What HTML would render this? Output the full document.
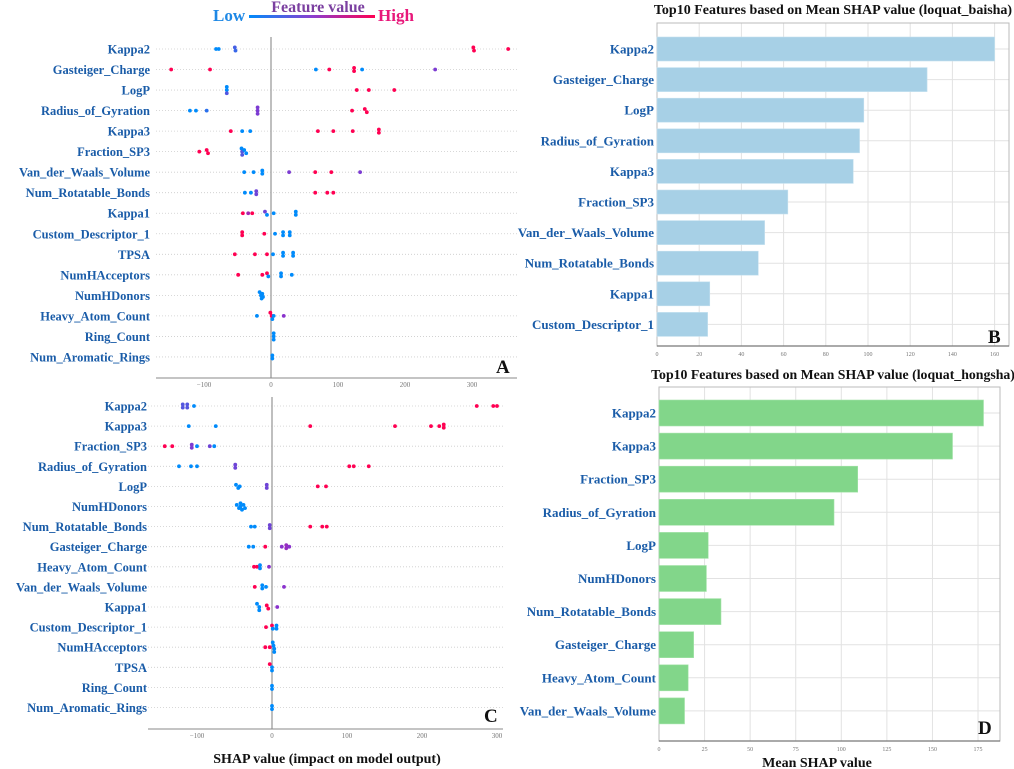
<!DOCTYPE html>
<html><head><meta charset="utf-8"><style>
html,body{margin:0;padding:0;background:#fff;}
svg{display:block;font-family:"Liberation Serif",serif;}
</style></head><body>
<svg id="fig" width="1014" height="769" viewBox="0 0 1014 769" xmlns="http://www.w3.org/2000/svg">
<defs><linearGradient id="fvgrad" x1="0" x2="1" y1="0" y2="0"><stop offset="0" stop-color="#008bfb"/><stop offset="0.5" stop-color="#8a3fd0"/><stop offset="1" stop-color="#ff0052"/></linearGradient></defs>
<g>
<text x="213" y="21" font-size="17" font-weight="bold" fill="#1e88e5">Low</text>
<rect x="249" y="15" width="126" height="3" fill="url(#fvgrad)"/>
<text x="318" y="12" font-size="16" font-weight="bold" fill="#7b3fa0" text-anchor="middle">Feature value</text>
<text x="378" y="21" font-size="17" font-weight="bold" fill="#e8177a">High</text>
</g>
<g id="gA"></g>
<g id="gC"></g>
<g id="gB"></g>
<g id="gD"></g>
</svg>
<script>
// ---- Panel A data ----
const featuresA = ["Kappa2","Gasteiger_Charge","LogP","Radius_of_Gyration","Kappa3","Fraction_SP3","Van_der_Waals_Volume","Num_Rotatable_Bonds","Kappa1","Custom_Descriptor_1","TPSA","NumHAcceptors","NumHDonors","Heavy_Atom_Count","Ring_Count","Num_Aromatic_Rings"];
const shapA = [
 [-82,-78,-54,-53,302,303,354],
 [-149,-91,67,87,124,124,136,245],
 [-66,-66,-66,128,146,184],
 [-121,-112,-96,-20,-20,-20,121,140,143],
 [-60,-43,-31,70,93,122,161,161],
 [-107,-96,-94,-44,-43,-40,-37,-43],
 [-40,-26,-13,-13,27,66,90,133],
 [-39,-30,-22,-22,66,84,93],
 [-42,-34,-28,-9,-6,4,37,37],
 [-43,-43,-10,6,18,18,28,28],
 [-54,-24,-6,3,18,18,33,33],
 [-49,-13,-6,-4,15,15,31],
 [-17,-15,-14,-13,-12],
 [-21,-1,1,2,4,19],
 [4,4,4],
 [2,2]];
const colA = [
 [0,0,0.25,0.2,1,1,1],
 [1,1,0,1,1,1,0,0.45],
 [0,0,0.3,1,1,1],
 [0,0,0.15,0.45,0.45,0.45,1,1,1],
 [1,0,0,1,1,1,1,1],
 [1,1,1,0,0.3,0,0,0.3],
 [0,0,0,0,0.45,1,1,0.45],
 [0,0,0.4,0.4,1,1,1],
 [1,0.6,1,0.4,0,0,0,0],
 [1,1,1,0,0,0,0,0],
 [1,1,1,0,0,0,0,0],
 [1,1,1,0,0,0,0],
 [0,0,0,0,0],
 [0,1,1,0,0,0.5],
 [0,0,0],
 [0,0]];
const ticksA = [-100,0,100,200,300];
// ---- Panel C data ----
const featuresC = ["Kappa2","Kappa3","Fraction_SP3","Radius_of_Gyration","LogP","NumHDonors","Num_Rotatable_Bonds","Gasteiger_Charge","Heavy_Atom_Count","Van_der_Waals_Volume","Kappa1","Custom_Descriptor_1","NumHAcceptors","TPSA","Ring_Count","Num_Aromatic_Rings"];
const shapC = [
 [-119,-119,-113,-113,-104,273,295,300],
 [-111,-75,51,164,212,223,229,229],
 [-143,-133,-107,-107,-100,-83,-77],
 [-124,-108,-100,-49,-49,103,109,129],
 [-48,-45,-43,-7,-7,61,72],
 [-47,-44,-42,-40,-38,-36,-42],
 [-28,-23,-3,-3,51,67,73],
 [-31,-25,-9,13,19,19,23],
 [-24,-20,-16,-16,-4],
 [-23,-13,-13,-8,16],
 [-20,-17,-17,-7,-5,7],
 [-8,0,1,6,6],
 [-9,-3,1,2,3,3],
 [-3,0,0],
 [0,0],
 [0,0]];
const colC = [
 [0.3,0.3,0.3,0.3,0,1,1,1],
 [0,0,1,1,1,1,1,1],
 [1,1,0.45,0.45,0,0.4,0],
 [0,0,0,0.4,0.4,1,1,1],
 [0,0,0,0.4,0.4,1,1],
 [0,0,0,0,0,0,0],
 [0,0,0.4,0.4,1,1,1],
 [0,0,1,0.5,0.55,0.55,0.5],
 [1,1,0,0,0.5],
 [1,0,0,0,0.5],
 [0,0,0,1,1,0.5],
 [1,1,0,0,0],
 [1,1,0,0,0,0],
 [1,0,0],
 [0,0],
 [0,0]];
const ticksC = [-100,0,100,200,300];
// ---- Panel B data ----
const featuresB = ["Kappa2","Gasteiger_Charge","LogP","Radius_of_Gyration","Kappa3","Fraction_SP3","Van_der_Waals_Volume","Num_Rotatable_Bonds","Kappa1","Custom_Descriptor_1"];
const valuesB = [160,128,98,96,93,62,51,48,25,24];
const ticksB = [0,20,40,60,80,100,120,140,160];
// ---- Panel D data ----
const featuresD = ["Kappa2","Kappa3","Fraction_SP3","Radius_of_Gyration","LogP","NumHDonors","Num_Rotatable_Bonds","Gasteiger_Charge","Heavy_Atom_Count","Van_der_Waals_Volume"];
const valuesD = [178,161,109,96,27,26,34,19,16,14];
const ticksD = [0,25,50,75,100,125,150,175];

const NS="http://www.w3.org/2000/svg";
function mk(parent,tag,attrs,text){const e=document.createElementNS(NS,tag);for(const k in attrs)e.setAttribute(k,attrs[k]);if(text!==undefined)e.textContent=text;parent.appendChild(e);return e;}
function shapColor(t){const a=[0,139,251],b=[255,0,82];const m=[138,50,205];let c;
 if(t<0.5){const u=t/0.5;c=a.map((v,i)=>Math.round(v+(m[i]-v)*u));}else{const u=(t-0.5)/0.5;c=m.map((v,i)=>Math.round(v+(b[i]-v)*u));}
 return "rgb("+c.join(",")+")";}
const LBL="#1a5ca8";

function beeswarm(g,feats,vals,cols,ticks,cfg){
 const xs=v=>cfg.x0+v*cfg.k;
 const ys=i=>cfg.y0+i*cfg.dy;
 feats.forEach((f,i)=>{
  const l=mk(g,"line",{x1:cfg.left,x2:cfg.right,y1:ys(i),y2:ys(i),stroke:"#ccc","stroke-width":0.8,"stroke-dasharray":"1,2"});
  
  
  const t=mk(g,"text",{x:cfg.lx,y:ys(i)+4.5,"text-anchor":"end","font-size":12.5,"font-weight":"bold",fill:LBL},f);
  
  
 });
 const z=mk(g,"line",{x1:xs(0),x2:xs(0),y1:cfg.zt,y2:cfg.axy,stroke:"#aaa","stroke-width":1.5});
 
 
 const ax=mk(g,"line",{x1:cfg.left,x2:cfg.right,y1:cfg.axy,y2:cfg.axy,stroke:"#888","stroke-width":1});
 
 
 ticks.forEach(tv=>{
  const tl=mk(g,"text",{x:xs(tv),y:cfg.axy+9,"text-anchor":"middle","font-size":7,fill:"#777"},tv<0?"\u2212"+(-tv):String(tv));
  
  
 });
 vals.forEach((row,i)=>{
  const pts=row.map((v,j)=>({x:xs(v),c:cols[i][j]})).sort((a,b)=>a.x-b.x);
  const clusters=[];
  pts.forEach(p=>{const last=clusters[clusters.length-1];if(last&&Math.abs(p.x-last[0].x)<2.5)last.push(p);else clusters.push([p]);});
  clusters.forEach(cl=>{const n=cl.length;cl.forEach((p,k)=>{
   const d=mk(g,"circle",{cx:p.x,cy:ys(i)+(k-(n-1)/2)*3.2,r:1.9,fill:shapColor(p.c)});
   
   
  });});
 });
 const pl=mk(g,"text",{x:cfg.px,y:cfg.py,"font-size":19,"font-weight":"bold",fill:"#111"},cfg.letter);
 
 
}
beeswarm(document.getElementById("gA"),featuresA,shapA,colA,ticksA,{x0:271,k:0.67,y0:49,dy:20.53,left:156,right:517,lx:150,zt:37,axy:378,px:496,py:373,letter:"A"});
beeswarm(document.getElementById("gC"),featuresC,shapC,colC,ticksC,{x0:272,k:0.75,y0:406,dy:20.1,left:148,right:503,lx:147,zt:397,axy:729,px:484,py:722,letter:"C"});
const xt=mk(document.getElementById("gC"),"text",{x:327,y:763,"text-anchor":"middle","font-size":14,"font-weight":"bold",fill:"#111"},"SHAP value (impact on model output)");



function barChart(g,feats,vals,ticks,cfg){
 const xs=v=>cfg.left+v*cfg.k;
 const ys=i=>cfg.y0+i*cfg.dy;
 const ti=mk(g,"text",{x:cfg.tx,y:cfg.ty,"text-anchor":"middle","font-size":cfg.tfs,"font-weight":"bold",fill:"#111"},cfg.title);
 
 
 ticks.forEach(tv=>{
  const gl=mk(g,"line",{x1:xs(tv),x2:xs(tv),y1:cfg.top,y2:cfg.bottom,stroke:"#e2e2e2","stroke-width":1});
  
  
  const tl=mk(g,"text",{x:xs(tv),y:cfg.bottom+10,"text-anchor":"middle","font-size":6,fill:"#777"},String(tv));
  
  
 });
 feats.forEach((f,i)=>{
  const hl=mk(g,"line",{x1:cfg.left,x2:cfg.right,y1:ys(i),y2:ys(i),stroke:"#e2e2e2","stroke-width":1});
  
  
 });
 const fr=mk(g,"rect",{x:cfg.left,y:cfg.top,width:cfg.right-cfg.left,height:cfg.bottom-cfg.top,fill:"none",stroke:"#bbb","stroke-width":1});
 
 
 feats.forEach((f,i)=>{
  const b=mk(g,"rect",{x:cfg.left,y:ys(i)-cfg.bh/2,width:xs(vals[i])-cfg.left,height:cfg.bh,fill:cfg.color,stroke:cfg.stroke,"stroke-width":0.6});
  
  
  const t=mk(g,"text",{x:cfg.left-3,y:ys(i)+4.5,"text-anchor":"end","font-size":13,"font-weight":"bold",fill:LBL},f);
  
  
 });
 const ax=mk(g,"line",{x1:cfg.left,x2:cfg.right,y1:cfg.bottom,y2:cfg.bottom,stroke:"#777","stroke-width":1.2});
 
 
 const pl=mk(g,"text",{x:cfg.px,y:cfg.py,"font-size":19,"font-weight":"bold",fill:"#111"},cfg.letter);
 
 
}
barChart(document.getElementById("gB"),featuresB,valuesB,ticksB,{left:657,right:1009,top:23,bottom:346,k:2.11,y0:49,dy:30.6,bh:24,color:"#a7d0e6",stroke:"#c4e0ef",title:"Top10 Features based on Mean SHAP value (loquat_baisha)",tx:833,ty:14,tfs:14,px:988,py:343,letter:"B"});
barChart(document.getElementById("gD"),featuresD,valuesD,ticksD,{left:659,right:1000,top:387,bottom:741,k:1.823,y0:413,dy:33.1,bh:26,color:"#82d68a",stroke:"#a5e3aa",title:"Top10 Features based on Mean SHAP value (loquat_hongsha)",tx:833,ty:379,tfs:13.8,px:978,py:734,letter:"D"});
const dt=mk(document.getElementById("gD"),"text",{x:817,y:767,"text-anchor":"middle","font-size":14,"font-weight":"bold",fill:"#111"},"Mean SHAP value");


</script>
</body></html>
